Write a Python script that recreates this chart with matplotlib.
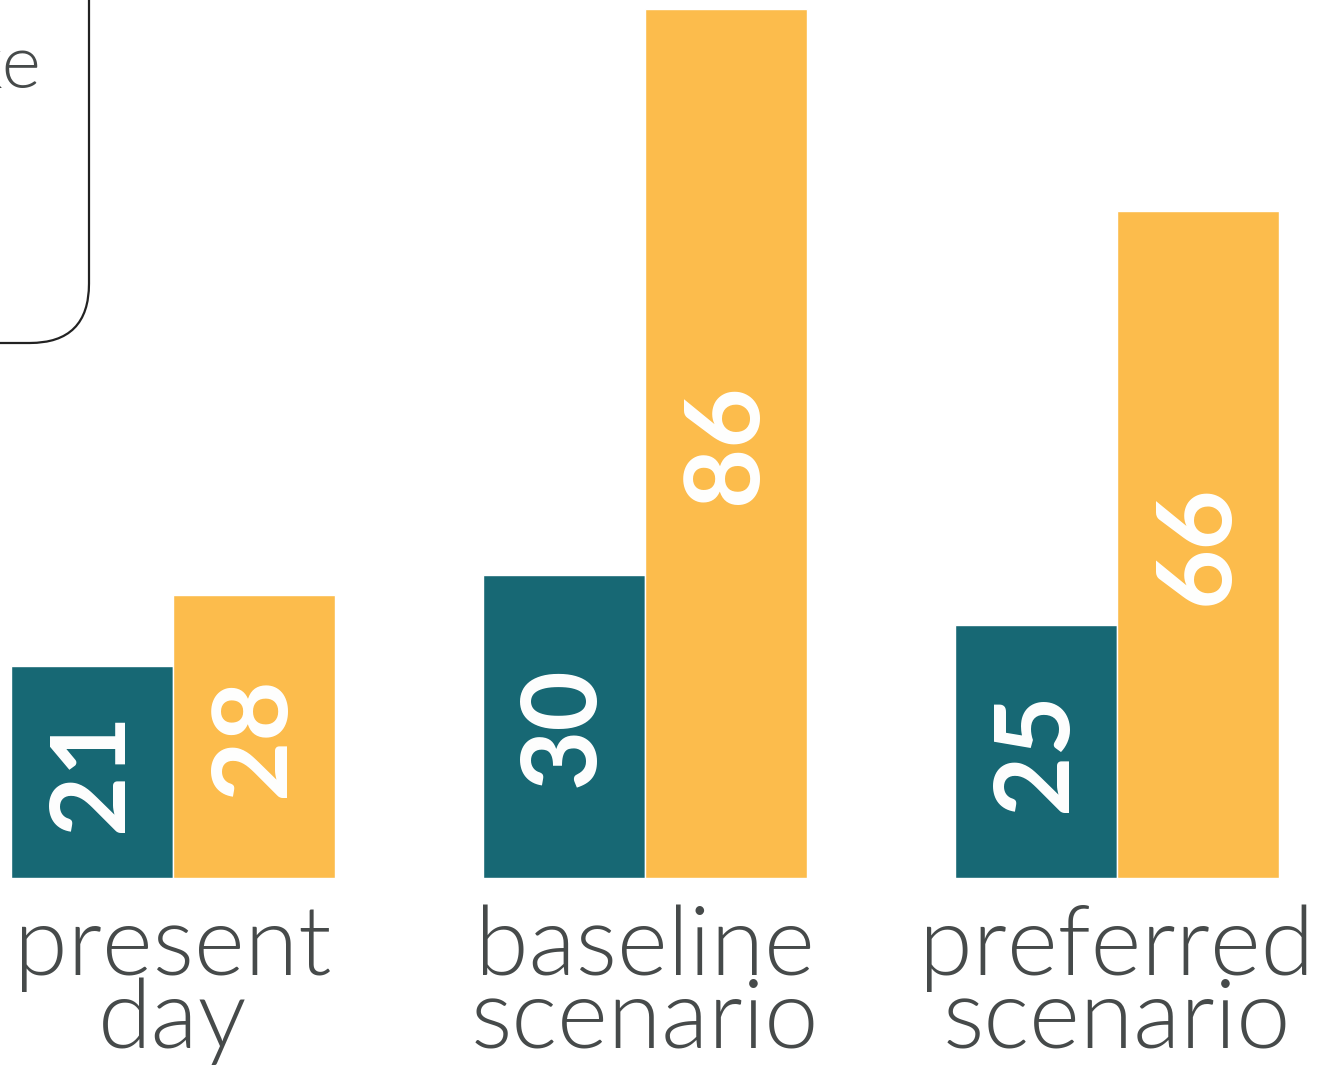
import matplotlib
matplotlib.use("Agg")
import matplotlib.pyplot as plt
from matplotlib.patches import FancyBboxPatch
import numpy as np

categories = ["present\nday", "baseline\nscenario", "preferred\nscenario"]
teal_values = [21, 30, 25]
yellow_values = [28, 86, 66]

TEAL = "#176874"
YELLOW = "#FCBC4C"
GRAY = "#464a4a"

W, H = 1317, 1067
dpi = 100
fig = plt.figure(figsize=(W / dpi, H / dpi), dpi=dpi)
fig.patch.set_facecolor("white")

base_px = 878
ax = fig.add_axes([0, (H - base_px) / H, 1, base_px / H])
ax.set_axis_off()

spacing = 472.0
c0 = 173.0
bw = 162.0 / spacing
x = np.arange(len(categories))
ax.set_xlim(-c0 / spacing, (W - c0) / spacing)
k = 869 / 86.0
ax.set_ylim(0, base_px / k)

b1 = ax.bar(x - bw / 2, teal_values, width=bw, color=TEAL, edgecolor="white", linewidth=1)
b2 = ax.bar(x + bw / 2, yellow_values, width=bw, color=YELLOW, edgecolor="white", linewidth=1)

for bars, vals in ((b1, teal_values), (b2, yellow_values)):
    for r, v in zip(bars, vals):
        ax.text(r.get_x() + r.get_width() / 2, v / 2, str(v), rotation=90,
                ha="center", va="center", color="white", fontsize=75,
                fontweight="bold", family="Lato")

for xi, lab in zip(x, categories):
    line1, line2 = lab.split("\n")
    ax.text(xi, (base_px - 975) / k, line1, ha="center", va="baseline",
            fontsize=70, color=GRAY, family="Lato", fontweight=300, clip_on=False)
    ax.text(xi, (base_px - 1048) / k, line2, ha="center", va="baseline",
            fontsize=70, color=GRAY, family="Lato", fontweight=300, clip_on=False)

# partial annotation box at top-left
box = FancyBboxPatch((-300 / W, (H - 343) / H), (89 + 300) / W, 600 / H,
                     boxstyle="round,pad=0,rounding_size=0.045",
                     transform=fig.transFigure, facecolor="none",
                     edgecolor="#222222", linewidth=1.6, mutation_aspect=W / H)
fig.patches.append(box)
fig.text(42 / W, (H - 88) / H, "ke", ha="right", va="baseline", fontsize=54,
         color=GRAY, family="Lato", fontweight=300)

fig.savefig("out.png", dpi=dpi)
